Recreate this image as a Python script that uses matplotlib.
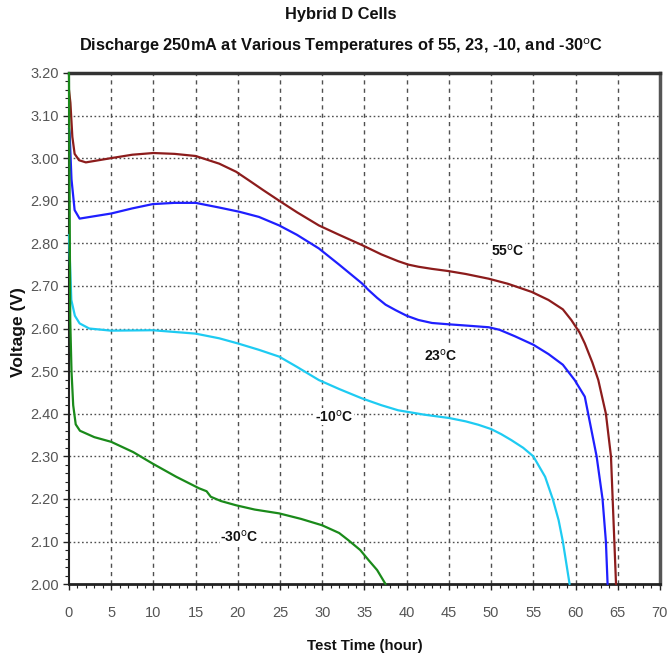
import matplotlib
matplotlib.use("Agg")
import matplotlib.pyplot as plt
from matplotlib.ticker import MultipleLocator

plt.rcParams['font.family'] = ['Liberation Sans Narrow', 'Liberation Sans', 'DejaVu Sans']

# ---- data ----
t_55 = [0, 0.17, 0.4, 0.67, 1.2, 2, 3.5, 5, 7.5, 10, 12.5, 15, 17.8, 19.8, 21.3, 23, 24.9, 27,
        29.6, 32, 34.7, 37, 39, 40.2, 41.4, 43, 44.9, 47, 49.7, 52, 54.8, 56.8, 58.5, 59.5,
        60.5, 61.1, 62, 62.7, 63.6, 64.2, 64.4, 64.6, 64.8]
v_55 = [3.16, 3.13, 3.05, 3.01, 2.995, 2.99, 2.995, 3.00, 3.008, 3.012, 3.01, 3.005, 2.987,
        2.968, 2.948, 2.925, 2.90, 2.873, 2.842, 2.82, 2.796, 2.774, 2.758, 2.75, 2.745,
        2.74, 2.735, 2.728, 2.717, 2.705, 2.686, 2.667, 2.645, 2.62, 2.59, 2.565, 2.52,
        2.479, 2.40, 2.30, 2.20, 2.10, 2.00]

t_23 = [0, 0.08, 0.3, 0.67, 1.26, 2.5, 5, 7.5, 9.9, 12.5, 15, 17.8, 20.2, 22.5, 24.9, 27,
        29.6, 32, 34.7, 35.5, 36.5, 37.5, 38.7, 40, 41.4, 43, 44.9, 47, 49.7, 51, 52.8, 55,
        56.8, 58.5, 59.9, 61.1, 61.5, 62.5, 63.2, 63.6, 63.8]
v_23 = [3.07, 3.058, 2.95, 2.878, 2.858, 2.862, 2.87, 2.882, 2.892, 2.895, 2.895, 2.884,
        2.874, 2.862, 2.842, 2.82, 2.788, 2.75, 2.706, 2.69, 2.672, 2.656, 2.643, 2.63, 2.62,
        2.613, 2.61, 2.607, 2.603, 2.597, 2.582, 2.562, 2.54, 2.515, 2.479, 2.44, 2.40,
        2.30, 2.20, 2.10, 2.00]

t_m10 = [0, 0.28, 0.7, 1.26, 2.4, 5, 9.9, 15, 17.8, 20, 22.5, 24.9, 27, 29.6, 32, 34.7, 37,
         39, 42, 45, 47, 48.5, 50, 51.2, 52.4, 53.8, 55, 56.4, 57.3, 58, 58.5, 59.3]
v_m10 = [2.82, 2.667, 2.63, 2.612, 2.60, 2.595, 2.596, 2.588, 2.577, 2.565, 2.55, 2.534,
         2.51, 2.479, 2.458, 2.436, 2.42, 2.408, 2.398, 2.39, 2.382, 2.374, 2.364, 2.352,
         2.338, 2.32, 2.30, 2.252, 2.20, 2.15, 2.10, 2.00]

t_m30 = [0, 0.15, 0.3, 0.5, 0.8, 1.3, 3, 5, 7.6, 9.9, 12.7, 15.4, 16.3, 16.8, 18, 19.8, 22,
         24.9, 27.5, 30, 32, 33.1, 34.5, 35.5, 36.5, 37.5]
v_m30 = [3.2, 2.62, 2.50, 2.42, 2.375, 2.36, 2.345, 2.334, 2.31, 2.283, 2.252, 2.225, 2.218,
         2.205, 2.195, 2.185, 2.175, 2.166, 2.153, 2.138, 2.12, 2.103, 2.08, 2.056, 2.033, 2.0]

labels = ["55$^{\\mathrm{o}}$C", "23$^{\\mathrm{o}}$C", "-10$^{\\mathrm{o}}$C", "-30$^{\\mathrm{o}}$C"]
label_t = [52, 44.1, 31.4, 20.2]
label_v = [2.784, 2.537, 2.393, 2.111]

x_ticks = list(range(0, 71, 5))
y_ticks = [2.00, 2.10, 2.20, 2.30, 2.40, 2.50, 2.60, 2.70, 2.80, 2.90, 3.00, 3.10, 3.20]

title1 = "Hybrid D Cells"
title2 = "Discharge 250mA at Various Temperatures of 55, 23, -10, and -30$^{\\mathrm{o}}$C"

# ---- figure ----
fig = plt.figure(figsize=(6.67, 6.63), dpi=100)
ax = fig.add_axes([0.1034, 0.119, 0.886, 0.771])

ax.set_xlim(0, 70)
ax.set_ylim(2.0, 3.2)

for xv in x_ticks[1:-1]:
    ax.axvline(xv, color='#505050', lw=1.0, ls=(0, (3, 3)), zorder=1)
for yv in y_ticks[1:-1]:
    ax.axhline(yv, color='#505050', lw=1.0, ls=(0, (1.2, 1.8)), zorder=1)

series = [(t_55, v_55, '#8c1c1c'), (t_23, v_23, '#1f1fff'),
          (t_m10, v_m10, '#1ecbf2'), (t_m30, v_m30, '#1a8a1a')]
for tt, vv, c in series:
    ax.plot(tt, vv, color=c, lw=1.6, zorder=3, clip_on=False,
            solid_joinstyle='round', solid_capstyle='round')

for lab, lt, lv in zip(labels, label_t, label_v):
    ax.text(lt, lv, lab, fontsize=10, fontweight='bold', ha='center', va='center',
            color='#111111', zorder=4,
            bbox=dict(facecolor='white', edgecolor='none', pad=0.5))

ax.set_xticks(x_ticks)
ax.set_yticks(y_ticks)
ax.set_xticklabels([str(v) for v in x_ticks])
ax.set_yticklabels([f"{v:.2f}" for v in y_ticks])
ax.xaxis.set_minor_locator(MultipleLocator(1))
ax.yaxis.set_minor_locator(MultipleLocator(0.02))
ax.tick_params(axis='both', which='major', labelsize=10.5, labelcolor='#555555',
               color='#222222', length=4, width=1, direction='out')
ax.tick_params(axis='both', which='minor', color='#222222', length=3, width=0.8,
               direction='out')
ax.tick_params(axis='x', pad=12)
ax.tick_params(axis='y', pad=3)

ax.spines['top'].set_linewidth(2.5)
ax.spines['top'].set_color('#333333')
ax.spines['right'].set_linewidth(2.5)
ax.spines['right'].set_color('#555555')
ax.spines['bottom'].set_linewidth(2.0)
ax.spines['bottom'].set_color('#222222')
ax.spines['left'].set_linewidth(1.5)
ax.spines['left'].set_color('#222222')

fig.text(341 / 667, 1 - 14 / 663, title1, fontsize=11.8, fontweight='bold',
         ha='center', va='center', color='#111111')
fig.text(341 / 667, 1 - 46 / 663, title2, fontsize=11.8, fontweight='bold',
         ha='center', va='center', color='#111111')
fig.text(365 / 667, 1 - 646 / 663, "Test Time (hour)", fontsize=10.8, fontweight='bold',
         ha='center', va='center', color='#111111')
fig.text(19 / 667, 1 - 332 / 663, "Voltage (V)", fontsize=12.5, fontweight='bold',
         ha='center', va='center', rotation=90, color='#111111')

fig.savefig("out.png", dpi=100, facecolor='white')
